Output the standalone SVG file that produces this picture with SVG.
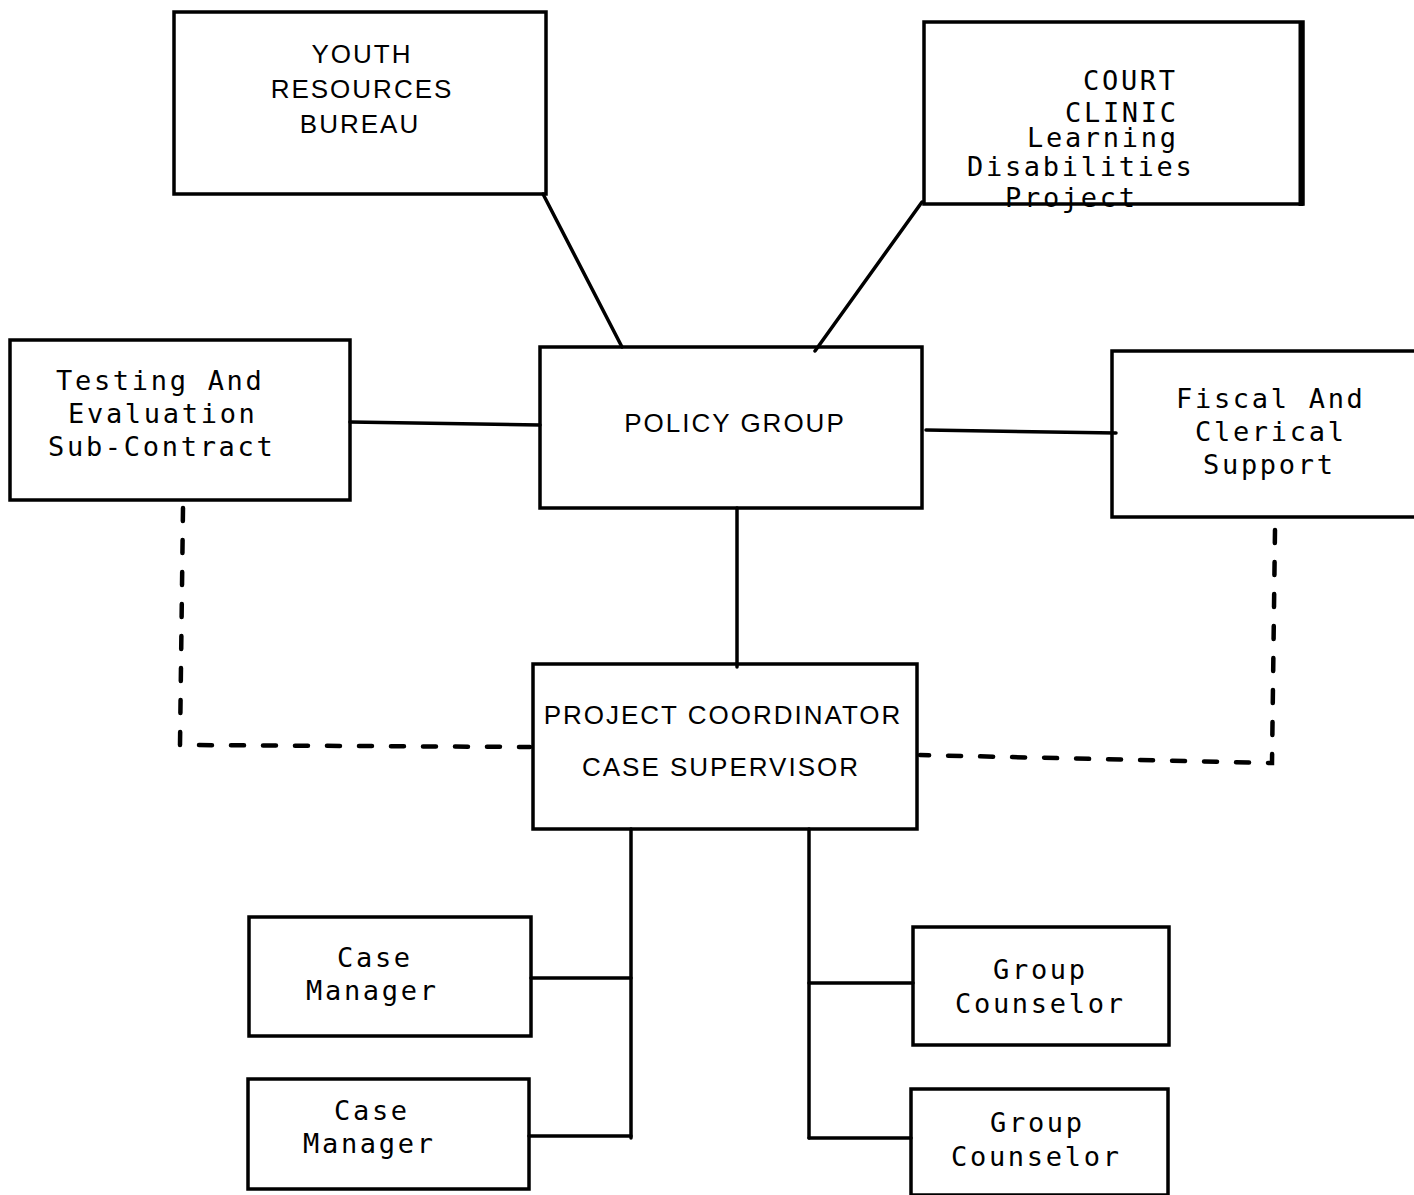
<svg xmlns="http://www.w3.org/2000/svg" width="1414" height="1195" viewBox="0 0 1414 1195">
<style>
.box{fill:none;stroke:#000;stroke-width:3.5}
.ln{fill:none;stroke:#000;stroke-width:3.5;stroke-linecap:round}
.dash{fill:none;stroke:#000;stroke-width:4.5;stroke-dasharray:13 19;stroke-linecap:round}
.sans{font-family:"Liberation Sans",Arial,sans-serif;font-size:26px;letter-spacing:2px;fill:#000;text-anchor:middle}
.mono{font-family:"DejaVu Sans Mono","Liberation Mono",monospace;font-size:27px;letter-spacing:2.7px;fill:#000}
</style>
<rect width="1414" height="1195" fill="#fff"/>
<g id="connectors">
<line class="ln" x1="543" y1="194" x2="622" y2="347"/>
<line class="ln" x1="922" y1="202" x2="815" y2="351"/>
<line class="ln" x1="350" y1="422" x2="540" y2="425"/>
<line class="ln" x1="926" y1="430" x2="1116" y2="433"/>
<line class="ln" x1="737" y1="508" x2="737" y2="667"/>
<line class="ln" x1="631" y1="829" x2="631" y2="1138"/>
<line class="ln" x1="531" y1="978" x2="631" y2="978"/>
<line class="ln" x1="529" y1="1136" x2="631" y2="1136"/>
<line class="ln" x1="809" y1="829" x2="809" y2="1138"/>
<line class="ln" x1="809" y1="983" x2="913" y2="983"/>
<line class="ln" x1="809" y1="1138" x2="911" y2="1138"/>
<polyline class="dash" points="183,508 180,745 530,747"/>
<polyline class="dash" points="1275,530 1272,763 920,755"/>
</g>
<g id="youth-resources-bureau">
<rect class="box" x="174" y="12" width="372" height="182"/>
<text class="sans" x="362" y="63">YOUTH</text>
<text class="sans" x="362" y="98">RESOURCES</text>
<text class="sans" x="360" y="133">BUREAU</text>
</g>
<g id="court-clinic">
<rect class="box" x="924" y="22" width="379" height="182"/>
<line x1="1301" y1="22" x2="1301" y2="206" stroke="#000" stroke-width="5"/>
<text class="mono" x="1083" y="90">COURT</text>
<text class="mono" x="1065" y="122">CLINIC</text>
<text class="mono" x="1027" y="147">Learning</text>
<text class="mono" x="967" y="176">Disabilities</text>
<text class="mono" x="1005" y="207">Project</text>
</g>
<g id="testing-evaluation">
<rect class="box" x="10" y="340" width="340" height="160"/>
<text class="mono" x="56" y="390">Testing And</text>
<text class="mono" x="68" y="423">Evaluation</text>
<text class="mono" x="48" y="456">Sub-Contract</text>
</g>
<g id="policy-group">
<rect class="box" x="540" y="347" width="382" height="161"/>
<text class="sans" x="735" y="432">POLICY GROUP</text>
</g>
<g id="fiscal-clerical">
<rect class="box" x="1112" y="351" width="304" height="166"/>
<text class="mono" x="1176" y="408">Fiscal And</text>
<text class="mono" x="1195" y="441">Clerical</text>
<text class="mono" x="1203" y="474">Support</text>
</g>
<g id="project-coordinator">
<rect class="box" x="533" y="664" width="384" height="165"/>
<text class="sans" x="723" y="724">PROJECT COORDINATOR</text>
<text class="sans" x="721" y="776">CASE SUPERVISOR</text>
</g>
<g id="case-manager-1">
<rect class="box" x="249" y="917" width="282" height="119"/>
<text class="mono" x="337" y="967">Case</text>
<text class="mono" x="306" y="1000">Manager</text>
</g>
<g id="case-manager-2">
<rect class="box" x="248" y="1079" width="281" height="110"/>
<text class="mono" x="334" y="1120">Case</text>
<text class="mono" x="303" y="1153">Manager</text>
</g>
<g id="group-counselor-1">
<rect class="box" x="913" y="927" width="256" height="118"/>
<text class="mono" x="993" y="979">Group</text>
<text class="mono" x="955" y="1013">Counselor</text>
</g>
<g id="group-counselor-2">
<rect class="box" x="911" y="1089" width="257" height="106"/>
<text class="mono" x="990" y="1132">Group</text>
<text class="mono" x="951" y="1166">Counselor</text>
</g>
</svg>
